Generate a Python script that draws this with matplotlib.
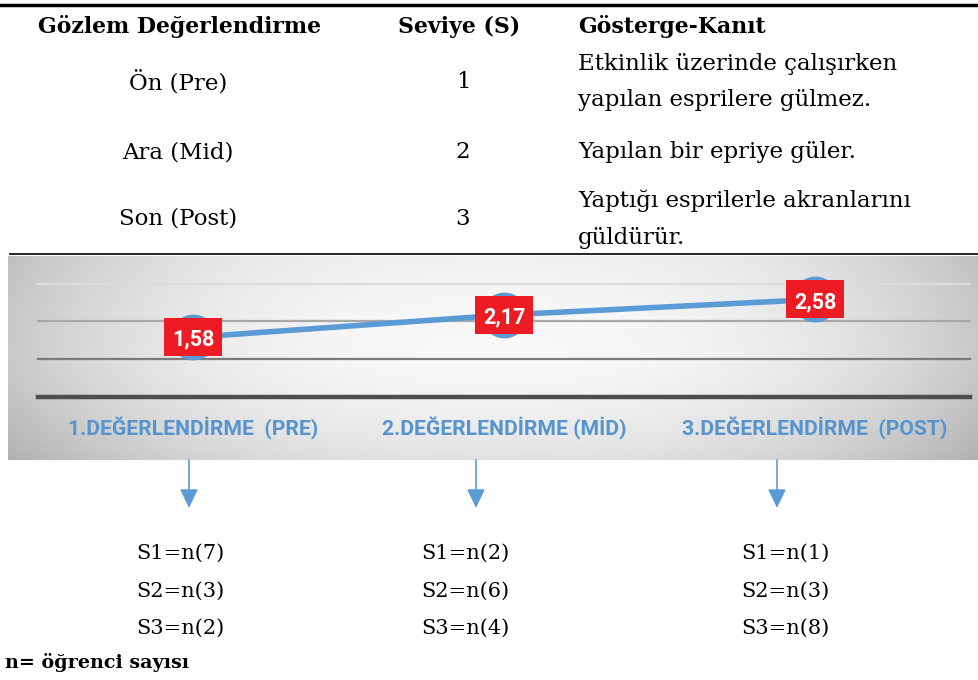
import numpy as np
import matplotlib
matplotlib.use("Agg")
import matplotlib.pyplot as plt
from matplotlib.patches import Rectangle

# ---------------- data ----------------
header = ["Gözlem Değerlendirme", "Seviye (S)", "Gösterge-Kanıt"]
row_labels = ["Ön (Pre)", "Ara (Mid)", "Son (Post)"]
levels = ["1", "2", "3"]
evidence = ["Etkinlik üzerinde çalışırken\nyapılan esprilere gülmez.",
            "Yapılan bir epriye güler.",
            "Yaptığı esprilerle akranlarını\ngüldürür."]
categories = ["1.DEĞERLENDİRME  (PRE)", "2.DEĞERLENDİRME (MİD)", "3.DEĞERLENDİRME  (POST)"]
values = [1.58, 2.17, 2.58]
value_labels = ["1,58", "2,17", "2,58"]
counts_S1 = [7, 2, 1]
counts_S2 = [3, 6, 3]
counts_S3 = [2, 4, 8]
footnote = "n= öğrenci sayısı"

W, H = 979, 680
fig = plt.figure(figsize=(W / 100, H / 100), dpi=100)
fig.patch.set_facecolor("white")

def fr(x0, y0, x1, y1):
    return [x0 / W, 1 - y1 / H, (x1 - x0) / W, (y1 - y0) / H]

serif = "DejaVu Serif"
sans = "Roboto"

# ---------------- chart panel ----------------
px0, py0, px1, py1 = 8, 256, 979, 460
ax = fig.add_axes(fr(px0, py0, px1, py1))
xs_px = [193, 505, 815]
sx = (xs_px[2] - xs_px[0]) / 2.0
base_px, unit_px = 397, 37.8
xl = (-(xs_px[0] - px0) / sx, 2 + (px1 - xs_px[2]) / sx)
yl = (-(py1 - base_px) / unit_px, (base_px - py0) / unit_px)
ax.set_xlim(*xl)
ax.set_ylim(*yl)
ax.axis("off")

# gradient background
gx = np.linspace(-1, 1, 400)
gy = np.linspace(-1, 1, 200)
GX, GY = np.meshgrid(gx, gy)
v = 0.975 - 0.19 * np.abs(GX) ** 2.4 - 0.09 * np.clip(-GY, 0, None) ** 1.5 - 0.03 * np.clip(GY, 0, None) ** 2
v = np.clip(v, 0.7, 1)
img = np.dstack([v, v, v])
ax.imshow(img, extent=[xl[0], xl[1], yl[0], yl[1]], origin="lower", aspect="auto", zorder=0)

gx0 = xl[0] + (38 - px0) / sx
gx1 = xl[0] + (970 - px0) / sx
ax.plot([gx0, gx1], [3, 3], color="#dcdcdc", lw=1.6, zorder=1)
ax.plot([gx0, gx1], [2, 2], color="#a8a8a8", lw=1.6, zorder=1)
ax.plot([gx0, gx1], [1, 1], color="#7a7a7a", lw=1.6, zorder=1)
ax.plot([gx0, gx1], [0, 0], color="#4d4d4d", lw=3.2, zorder=1)

xs = np.arange(len(values))
ax.plot(xs, values, color="#5B9BD5", lw=4, zorder=2, solid_capstyle="butt")
ax.plot(xs, values, "o", color="#5B9BD5", ms=32, zorder=3)
bw, bh = 58 / sx, 38 / unit_px
for x, y, lab in zip(xs, values, value_labels):
    ax.add_patch(Rectangle((x - bw / 2, y - bh / 2), bw, bh, facecolor="#ED1C24",
                           edgecolor="none", zorder=4))
    ax.text(x, y, lab, color="white", fontsize=15.5, fontweight="bold",
            family=sans, ha="center", va="center_baseline", zorder=5)
for x, c in zip(xs, categories):
    ax.text(x, -0.82, c, color="#5694D0", fontsize=15.2, fontweight="bold",
            family=sans, ha="center", va="center", zorder=5)

# ---------------- overlay ----------------
ov = fig.add_axes([0, 0, 1, 1])
ov.set_xlim(0, W)
ov.set_ylim(H, 0)
ov.axis("off")
ov.patch.set_alpha(0)

ov.plot([0, W], [5, 5], color="black", lw=2.5)
ov.plot([10, W], [254, 254], color="black", lw=1.2)

fs = 16.5
ov.text(180, 27, header[0], family=serif, fontsize=15.8, fontweight="bold", ha="center", va="center")
ov.text(459, 27, header[1], family=serif, fontsize=15.8, fontweight="bold", ha="center", va="center")
ov.text(578, 27, header[2], family=serif, fontsize=15.8, fontweight="bold", ha="left", va="center")
row_y = [82, 152, 219]
for y, a, b, c in zip(row_y, row_labels, levels, evidence):
    ov.text(178, y, a, family=serif, fontsize=fs, ha="center", va="center")
    ov.text(463, y, b, family=serif, fontsize=fs, ha="center", va="center")
    ov.text(578, y, c, family=serif, fontsize=fs, ha="left", va="center", linespacing=1.88)

arrow_x = [189, 476, 777]
for x in arrow_x:
    ov.annotate("", xy=(x, 508), xytext=(x, 460),
                arrowprops=dict(arrowstyle="-|>,head_length=1.15,head_width=0.55",
                                color="#5B9BD5", lw=1.2, shrinkA=0, shrinkB=0))

fl = 15
list_x = [180, 465, 785]
for x, a, b, c in zip(list_x, counts_S1, counts_S2, counts_S3):
    ov.text(x, 553, f"S1=n({a})", family=serif, fontsize=fl, ha="center", va="center")
    ov.text(x, 591, f"S2=n({b})", family=serif, fontsize=fl, ha="center", va="center")
    ov.text(x, 628, f"S3=n({c})", family=serif, fontsize=fl, ha="center", va="center")

ov.text(5, 662, footnote, family=serif, fontsize=13.8, fontweight="bold", ha="left", va="center")

fig.savefig("out.png", dpi=100)
